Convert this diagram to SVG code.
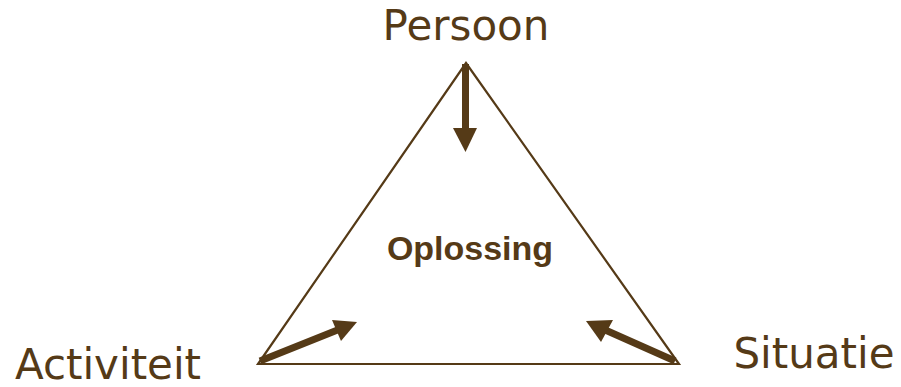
<svg xmlns="http://www.w3.org/2000/svg" width="901" height="387" viewBox="0 0 901 387">
<style>
.lbl{font-family:"DejaVu Sans",Verdana,sans-serif;font-size:42px;fill:#553a17}
.ctr{font-family:"Liberation Sans",Arial,sans-serif;font-size:34px;font-weight:bold;fill:#553a17}
.edge{fill:none;stroke:#553a17;stroke-width:2.2}
.shaft{stroke:#553a17;stroke-width:7;fill:none}
.head{fill:#553a17}
</style>
<rect width="901" height="387" fill="#ffffff"/>
<g id="triangle">
<path class="edge" d="M466,63 L679,364 L258,364 Z"/>
</g>
<g id="connectors">
<line class="shaft" x1="465.5" y1="64" x2="465.5" y2="130"/>
<polygon class="head" points="453,128 477,128 465.5,152"/>
<line class="shaft" x1="260" y1="361" x2="340" y2="329"/>
<polygon class="head" points="357,322 332,320 341,341"/>
<line class="shaft" x1="675" y1="361" x2="603" y2="329"/>
<polygon class="head" points="586,321 613,320 601,342"/>
</g>
<g id="persoon"><text class="lbl" x="466" y="40" text-anchor="middle">Persoon</text></g>
<g id="activiteit"><text class="lbl" x="108" y="379" text-anchor="middle">Activiteit</text></g>
<g id="situatie"><text class="lbl" x="814" y="368" text-anchor="middle">Situatie</text></g>
<g id="oplossing"><text class="ctr" x="470" y="260" text-anchor="middle">Oplossing</text></g>
</svg>
